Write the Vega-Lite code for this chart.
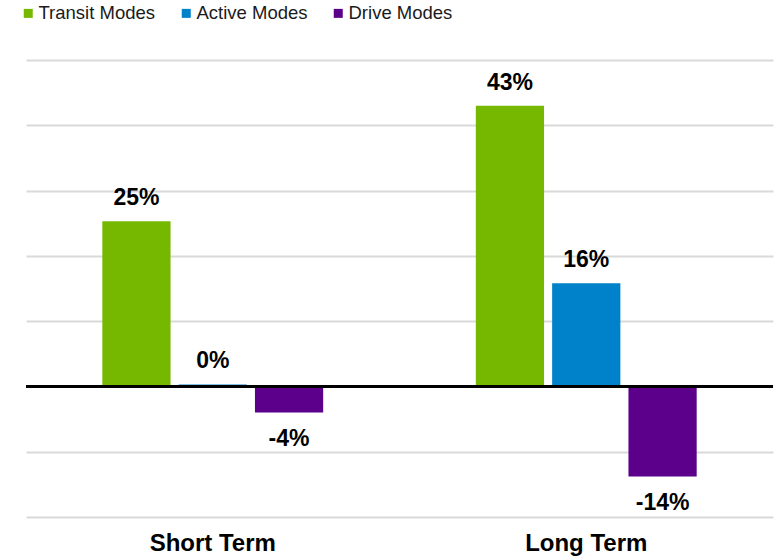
{
  "$schema": "https://vega.github.io/schema/vega-lite/v6.json",
  "width": 747,
  "height": 457,
  "autosize": {"type": "none"},
  "padding": {"left": 26, "top": 60, "right": 4, "bottom": 41},
  "background": "white",
  "config": {"view": {"stroke": null}, "font": "Liberation Sans"},
  "data": {
    "values": [
      {"term": "Short Term", "mode": "Transit Modes", "value": 25.3, "label": "25%"},
      {"term": "Short Term", "mode": "Active Modes", "value": 0.3, "label": "0%"},
      {"term": "Short Term", "mode": "Drive Modes", "value": -4.0, "label": "-4%"},
      {"term": "Long Term", "mode": "Transit Modes", "value": 43.0, "label": "43%"},
      {"term": "Long Term", "mode": "Active Modes", "value": 15.8, "label": "16%"},
      {"term": "Long Term", "mode": "Drive Modes", "value": -13.8, "label": "-14%"}
    ]
  },
  "encoding": {
    "x": {
      "field": "term", "type": "nominal", "sort": ["Short Term", "Long Term"],
      "scale": {"paddingInner": 0, "paddingOuter": 0},
      "axis": {"title": null, "domain": false, "ticks": false, "labelAngle": 0, "labelFont": "Liberation Sans", "labelFontSize": 24, "labelFontWeight": "bold", "labelColor": "#000000", "labelPadding": 14}
    },
    "xOffset": {
      "field": "mode", "type": "nominal", "sort": ["Transit Modes", "Active Modes", "Drive Modes"],
      "scale": {"paddingInner": 0.106, "paddingOuter": 1.026}
    },
    "y": {
      "field": "value", "type": "quantitative",
      "scale": {"domain": [-20, 50], "nice": false, "zero": false},
      "axis": {"title": null, "labels": false, "ticks": false, "domain": false, "values": [-20, -10, 0, 10, 20, 30, 40, 50], "gridColor": "#d9d9d9", "gridWidth": 2}
    }
  },
  "layer": [
    {
      "mark": {"type": "bar"},
      "encoding": {
        "color": {
          "field": "mode", "type": "nominal",
          "scale": {"domain": ["Transit Modes", "Active Modes", "Drive Modes"], "range": ["#76b800", "#0082ca", "#5c008c"]},
          "legend": {
            "title": null, "orient": "none", "direction": "horizontal", "legendX": -7, "legendY": -56,
            "symbolType": "square", "symbolSize": 81, "symbolStrokeWidth": 0,
            "labelFont": "Liberation Sans", "labelFontSize": 18.5, "labelColor": "#1a1a1a", "labelOffset": 1, "columnPadding": 21
          }
        }
      }
    },
    {
      "mark": {"type": "rule", "color": "#000000", "strokeWidth": 2.5},
      "encoding": {"y": {"datum": 0}, "x": {"value": 0}, "x2": {"value": 747}, "xOffset": null}
    },
    {
      "transform": [{"filter": "datum.value >= 0"}],
      "mark": {"type": "text", "font": "Liberation Sans", "fontSize": 23, "fontWeight": "bold", "baseline": "alphabetic", "dy": -16, "color": "#000000"},
      "encoding": {"text": {"field": "label"}}
    },
    {
      "transform": [{"filter": "datum.value < 0"}],
      "mark": {"type": "text", "font": "Liberation Sans", "fontSize": 23, "fontWeight": "bold", "baseline": "top", "dy": 15, "color": "#000000"},
      "encoding": {"text": {"field": "label"}}
    }
  ]
}
